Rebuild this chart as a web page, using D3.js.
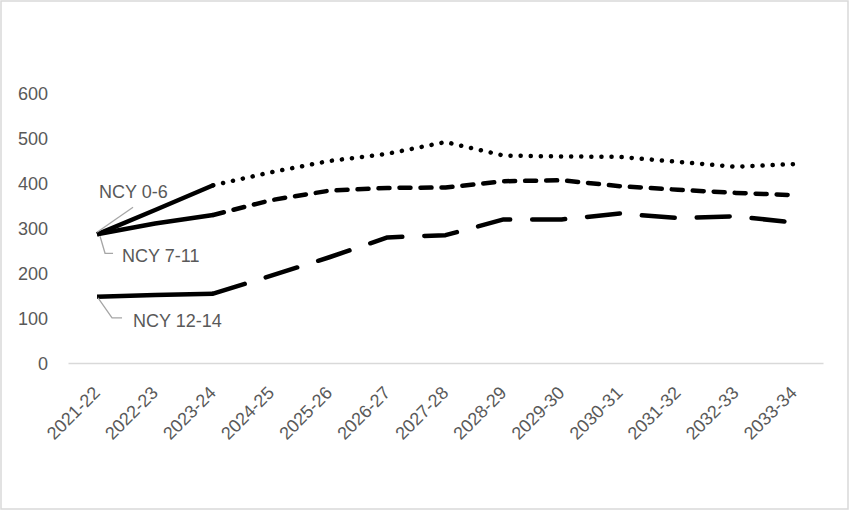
<!DOCTYPE html>
<html>
<head>
<meta charset="utf-8">
<script src="https://cdn.jsdelivr.net/npm/d3@7/dist/d3.min.js"></script>
<style>
  html, body { margin: 0; padding: 0; background: #fff; }
  svg { display: block; }
  text { font-family: "Liberation Sans", Arial, sans-serif; fill: #595959; }
</style>
</head>
<body>
<svg id="chart" width="850" height="511"></svg>
<script>
const categories = ["2021-22","2022-23","2023-24","2024-25","2025-26","2026-27","2027-28",
                    "2028-29","2029-30","2030-31","2031-32","2032-33","2033-34"];
const ncy0_6   = [286, 340, 395, 424, 449, 465, 491, 461, 459, 458, 447, 436, 442];
const ncy7_11  = [286, 310, 329, 362, 383, 389, 390, 404, 406, 393, 385, 378, 373];
const ncy12_14 = [147, 151, 154, 194, 235, 279, 284, 319, 319, 332, 322, 326, 312];
const yTicks = [0, 100, 200, 300, 400, 500, 600];
const actualCount = 3; // first three years are actual (solid), the rest projected

const svg = d3.select("#chart");
const W = 850, H = 511;

// outer border
svg.append("rect").attr("x", 1).attr("y", 1).attr("width", W - 3).attr("height", H - 3)
  .attr("fill", "#fff").attr("stroke", "#d9d9d9").attr("stroke-width", 1.5);

const x0 = 68, x1 = 823, yBottom = 363, yTop = 93;
const x = d3.scaleBand().domain(categories).range([x0, x1]);
const cx = c => x(c) + x.bandwidth() / 2;
const y = d3.scaleLinear().domain([0, 600]).range([yBottom, yTop]);

// y axis labels
const yAxis = d3.axisLeft(y).tickValues(yTicks).tickSize(0).tickPadding(0);
const gy = svg.append("g").attr("transform", `translate(48,0)`).call(yAxis);
gy.select(".domain").remove();
gy.selectAll("text").attr("font-size", 18).attr("font-family", "Liberation Sans, Arial, sans-serif")
  .attr("fill", "#595959").attr("dy", "0.36em");

// x axis line
const xAxis = d3.axisBottom(x).tickSize(0).tickPadding(0);
const gx = svg.append("g").attr("transform", `translate(0,${yBottom})`).call(xAxis);
gx.select(".domain").attr("stroke", "#d9d9d9").attr("stroke-width", 1.3);
gx.selectAll("text")
  .attr("font-size", 18).attr("font-family", "Liberation Sans, Arial, sans-serif")
  .attr("fill", "#595959")
  .attr("text-anchor", "end")
  .attr("dy", null).attr("y", null)
  .attr("transform", "translate(4,31) rotate(-45)");

const line = d3.line().x((d, i) => d.x).y(d => y(d.v));

const series = [
  { name: "NCY 0-6",   vals: ncy0_6,   dash: "0.1 10",  cap: "round" },
  { name: "NCY 7-11",  vals: ncy7_11,  dash: "11 10",   cap: "round" },
  { name: "NCY 12-14", vals: ncy12_14, dash: "33 22",   cap: "round" }
];

series.forEach(s => {
  const pts = s.vals.map((v, i) => ({ x: cx(categories[i]), v }));
  const actual = pts.slice(0, actualCount);
  const proj = pts.slice(actualCount - 1);
  svg.append("path").attr("d", line(proj)).attr("fill", "none")
    .attr("stroke", "#000").attr("stroke-width", 4.5)
    .attr("stroke-dasharray", s.dash).attr("stroke-linecap", s.cap)
    .attr("stroke-linejoin", "round");
  svg.append("path").attr("d", line(actual)).attr("fill", "none")
    .attr("stroke", "#000").attr("stroke-width", 4.5)
    .attr("stroke-linecap", "butt").attr("stroke-linejoin", "round");
});

// data labels with leader lines
const px = cx(categories[0]);
const leaderColor = "#a6a6a6";
const labels = [
  { text: "NCY 0-6",   v: ncy0_6[0],   leader: [[0, -2], [36, -27]],               tx: 2,  ty: -36 },
  { text: "NCY 7-11",  v: ncy7_11[0],  leader: [[3, 2], [8, 19], [16, 19]],        tx: 25, ty: 28 },
  { text: "NCY 12-14", v: ncy12_14[0], leader: [[1, 1], [15, 21], [25, 21]],       tx: 36, ty: 30 }
];
labels.forEach(l => {
  const py = y(l.v);
  svg.append("path")
    .attr("d", d3.line()(l.leader.map(p => [px + p[0], py + p[1]])))
    .attr("fill", "none").attr("stroke", leaderColor).attr("stroke-width", 1.3);
  svg.append("text").attr("x", px + l.tx).attr("y", py + l.ty)
    .attr("font-size", 18).text(l.text);
});
</script>
</body>
</html>
